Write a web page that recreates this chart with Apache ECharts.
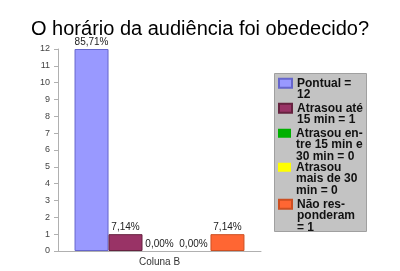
<!DOCTYPE html>
<html><head><meta charset="utf-8">
<script src="https://cdn.jsdelivr.net/npm/echarts@6/dist/echarts.min.js"></script>
<style>html,body{margin:0;padding:0;background:#fff}#c{width:400px;height:271px}</style>
</head><body><div id="c"></div>
<script>
const categories = ['Coluna B'];
const seriesNames = ['Pontual = 12', 'Atrasou até 15 min = 1', 'Atrasou entre 15 min e 30 min = 0', 'Atrasou mais de 30 min = 0', 'Não responderam = 1'];
const legendLines = [['Pontual =', '12'], ['Atrasou até', '15 min = 1'], ['Atrasou en-', 'tre 15 min e', '30 min = 0'], ['Atrasou', 'mais de 30', 'min = 0'], ['Não res-', 'ponderam', '= 1']];
const values = [12, 1, 0, 0, 1];
const percentLabels = ['85,71%', '7,14%', '0,00%', '0,00%', '7,14%'];
const colors = ['#9999ff', '#993366', '#00b000', '#ffff00', '#ff6633'];
const borders = ['#6666cc', '#66223f', '#007700', '#aaaa00', '#cc4f22'];

const FONT = '"Liberation Sans", Arial, sans-serif';
const L = 11.5;
const legendCenters = [83, 108, 133, 167, 204];

const series = seriesNames.map((n, i) => ({
  name: n,
  type: 'bar',
  data: [values[i]],
  barGap: 0,
  barCategoryGap: '16.3%',
  itemStyle: { color: colors[i], borderColor: borders[i], borderWidth: values[i] > 0 ? 1 : 0 },
  label: { show: true, position: 'top', distance: 2, formatter: () => percentLabels[i], fontFamily: FONT, fontSize: 10, color: '#222' }
}));

const legends = seriesNames.map((n, i) => {
  const k = legendLines[i].length;
  const blank = new Array(k - 1).fill(' ');
  return {
    data: [n],
    orient: 'vertical',
    left: 278,
    top: legendCenters[i] - (2 * k - 1) * L / 2,
    padding: 0,
    itemWidth: 13,
    itemHeight: 9,
    icon: 'rect',
    selectedMode: false,
    formatter: () => blank.concat(legendLines[i]).join('\n'),
    textStyle: { fontFamily: FONT, fontSize: 12, fontWeight: 'bold', color: '#111', lineHeight: L, backgroundColor: 'rgba(0,0,0,0)' }
  };
});

const chart = echarts.init(document.getElementById('c'), null, { renderer: 'canvas' });
chart.setOption({
  animation: false,
  backgroundColor: '#fff',
  title: { text: 'O horário da audiência foi obedecido?', left: 'center', top: 14, textStyle: { fontFamily: FONT, fontSize: 20, fontWeight: 'normal', color: '#000' } },
  graphic: [{ type: 'rect', shape: { x: 274.5, y: 73.5, width: 92, height: 158 }, style: { fill: '#c3c3c3', stroke: '#a0a0a0', lineWidth: 1 }, z: 0 }],
  legend: legends,
  grid: { left: 58, right: 139, top: 49, bottom: 20, containLabel: false },
  xAxis: {
    type: 'category', data: categories,
    axisLine: { lineStyle: { color: '#b0b0b0' } },
    axisTick: { show: false },
    axisLabel: { fontFamily: FONT, fontSize: 10, color: '#333', margin: 6 }
  },
  yAxis: {
    type: 'value', min: 0, max: 12, interval: 1,
    axisLine: { show: true, lineStyle: { color: '#b0b0b0' } },
    axisTick: { show: true, length: 4, lineStyle: { color: '#b0b0b0' } },
    axisLabel: { fontFamily: FONT, fontSize: 9, color: '#444', margin: 8 },
    splitLine: { show: false }
  },
  series: series
});
</script></body></html>
